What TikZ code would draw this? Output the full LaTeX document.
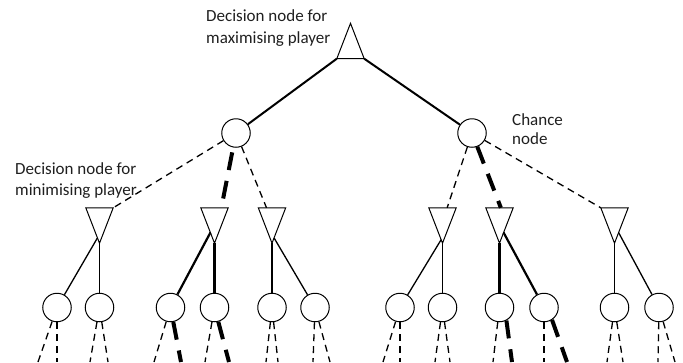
\documentclass[tikz,border=0pt]{standalone}
\usepackage{fontspec}
\setmainfont{Carlito}
\usetikzlibrary{calc}
\tikzset{
  chance/.style={circle, draw, line width=1pt, minimum size=28.5pt, inner sep=0pt},
  decbox/.style={rectangle, minimum width=27pt, minimum height=35pt, inner sep=0pt},
  triline/.style={line width=1pt, line join=miter},
  thinedge/.style={line width=1.3pt},
  boldedge/.style={line width=2.2pt},
  topedge/.style={line width=2pt},
  thindash/.style={line width=1.3pt, dash pattern=on 7pt off 5pt},
  bolddash/.style={line width=4pt, dash pattern=on 18pt off 11pt},
  lbl/.style={anchor=base west, inner sep=0pt, font=\fontsize{17}{21}\selectfont, text=black!88}
}
\begin{document}
\begin{tikzpicture}[x=1pt,y=-1pt]
\useasboundingbox (0,0) rectangle (683,362);
\clip (0,0) rectangle (683,362);
% top decision node (maximising)
\node[decbox] (T) at (350.5,41) {};
\draw[triline] (T.south west) -- (T.south east) -- (T.north) -- cycle;
% chance nodes level 1
\node[chance] (L) at (236,133) {};
\node[chance] (R) at (472,133) {};
% decision nodes (minimising)
\foreach \nm/\xx in {t1/99.5, t2/214.5, t3/272, t4/442.5, t5/499.5, t6/614.5}{
  \node[decbox] (\nm) at (\xx,225.5) {};
  \draw[triline] (\nm.north west) -- (\nm.north east) -- (\nm.south) -- cycle;
}
% chance nodes level 3
\foreach \nm/\xx in {c1/57, c2/99.5, c3/170.5, c4/214.5, c5/272, c6/315, c7/400, c8/442.5, c9/499.5, c10/544, c11/614.5, c12/659}{
  \node[chance] (\nm) at (\xx,307.5) {};
}
% top edges
\draw[topedge] (T.south west) -- (L);
\draw[topedge] (T.south east) -- (R);
% chance -> decision
\draw[thindash] (L) -- (t1.north east);
\draw[bolddash, dash phase=24pt] (L) -- ($(t2.north west)!0.75!(t2.north east)$);
\draw[thindash] (L) -- ($(t3.north west)!0.3!(t3.north east)$);
\draw[thindash] (R) -- ($(t4.north west)!0.67!(t4.north east)$);
\draw[bolddash] (R) -- ($(t5.north west)!0.55!(t5.north east)$);
\draw[thindash] (R) -- (t6.north west);
% decision -> chance
\draw[thinedge] ($(t1.south)!0.15!(t1.north west)$) -- (c1);
\draw[thinedge] (t1.south) -- (c2);
\draw[boldedge] ($(t2.south)!0.3!(t2.north west)$) -- (c3);
\draw[boldedge] (t2.south) -- (c4);
\draw[thinedge] (t3.south) -- (c5);
\draw[thinedge] ($(t3.south)!0.15!(t3.north east)$) -- (c6);
\draw[thinedge] ($(t4.south)!0.1!(t4.north west)$) -- (c7);
\draw[thinedge] (t4.south) -- (c8);
\draw[boldedge] (t5.south) -- (c9);
\draw[boldedge] ($(t5.south)!0.3!(t5.north east)$) -- (c10);
\draw[thinedge] (t6.south) -- (c11);
\draw[thinedge] ($(t6.south)!0.3!(t6.north east)$) -- (c12);
% outgoing edges cut by the frame
\foreach \cn/\xa/\xb in {c1/38/57, c2/90/108, c5/266/278, c6/313/330, c7/383/400, c8/435/450, c11/607/623, c12/658/675}{
  \coordinate (\cn a) at (\xa,362);
  \coordinate (\cn b) at (\xb,362);
  \draw[thindash] (\cn) -- (\cn a);
  \draw[thindash] (\cn) -- (\cn b);
}
\coordinate (c3a) at (154,362);
\coordinate (c3b) at (181,362);
\coordinate (c4a) at (205,362);
\coordinate (c4b) at (229,362);
\coordinate (c9a) at (493,362);
\coordinate (c9b) at (512,362);
\coordinate (c10a) at (544,362);
\coordinate (c10b) at (567,362);
\draw[thindash] (c3) -- (c3a);
\draw[bolddash] (c3) -- (c3b);
\draw[thindash] (c4) -- (c4a);
\draw[bolddash] (c4) -- (c4b);
\draw[thindash] (c9) -- (c9a);
\draw[bolddash] (c9.-62) -- (c9b);
\draw[thindash] (c10) -- (c10a);
\draw[bolddash] (c10.-57) -- (c10b);
% labels
\node[lbl] (m1) at (206,21) {Decision node for};
\node[lbl] (m2) at (206,43) {maximising player};
\node[lbl] (ch1) at (512,125) {Chance};
\node[lbl] (ch2) at (512,144) {node};
\node[lbl] (n1) at (15,174) {Decision node for};
\node[lbl] (n2) at (15,195) {minimising player};
\end{tikzpicture}
\end{document}
